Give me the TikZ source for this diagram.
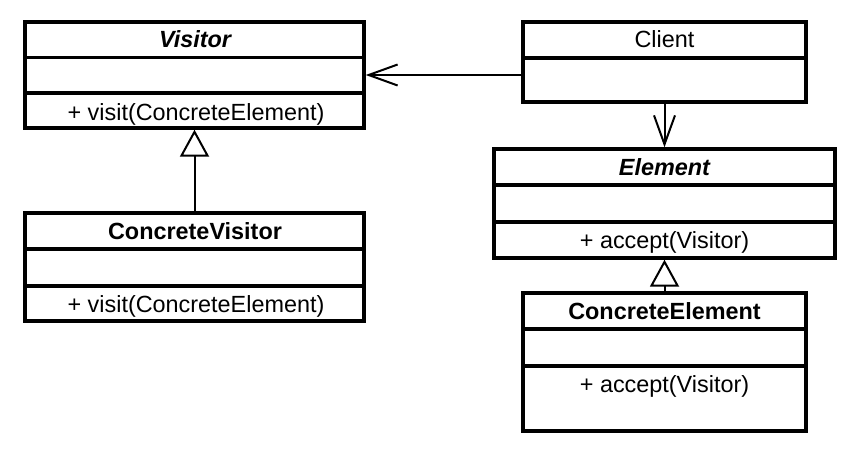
\documentclass[tikz,border=0pt]{standalone}
\usepackage{fontspec}
\setmainfont{Liberation Sans}
\usetikzlibrary{arrows.meta}
\begin{document}
\begin{tikzpicture}[x=1pt,y=-1pt,
  cls/.style={draw, line width=3.4pt, inner sep=0pt, fill=white},
  div/.style={line width=3.4pt},
  lbl/.style={anchor=base, inner sep=0pt, font=\fontsize{23.4pt}{27pt}\selectfont},
  assoc/.style={line width=2pt, -{Straight Barb[length=29pt,width=21pt,line width=2pt,line join=miter]}},
  gen/.style={line width=2pt, -{Triangle[open,length=27pt,width=29pt,line width=2pt,fill=white]}}]
\fill[white] (0,0) rectangle (862,452);
\useasboundingbox (0,0) rectangle (862,452);

% Visitor
\node[cls, minimum width=339pt, minimum height=106pt] (visitor) at (194.5,75) {};
\draw[div] (visitor.west |- 0,57.5) -- (visitor.east |- 0,57.5);
\draw[div] (visitor.west |- 0,93) -- (visitor.east |- 0,93);
\node[lbl] (visitorT) at (195,48) {\bfseries\itshape Visitor};
\node[lbl] (visitorM) at (196,120) {+ visit(ConcreteElement)};

% ConcreteVisitor
\node[cls, minimum width=339pt, minimum height=108pt] (cvisitor) at (194.5,267) {};
\draw[div] (cvisitor.west |- 0,249) -- (cvisitor.east |- 0,249);
\draw[div] (cvisitor.west |- 0,286) -- (cvisitor.east |- 0,286);
\node[lbl] (cvisitorT) at (195,239) {\bfseries ConcreteVisitor};
\node[lbl] (cvisitorM) at (196,312) {+ visit(ConcreteElement)};

% Client
\node[cls, minimum width=283pt, minimum height=80pt] (client) at (664.5,62) {};
\draw[div] (client.west |- 0,58) -- (client.east |- 0,58);
\node[lbl] (clientT) at (664.5,48) {Client};

% Element
\node[cls, minimum width=341pt, minimum height=109pt] (element) at (664.5,203.5) {};
\draw[div] (element.west |- 0,185) -- (element.east |- 0,185);
\draw[div] (element.west |- 0,222) -- (element.east |- 0,222);
\node[lbl] (elementT) at (664.5,175) {\bfseries\itshape Element};
\node[lbl] (elementM) at (664.5,248) {+ accept(Visitor)};

% ConcreteElement
\node[cls, minimum width=283pt, minimum height=138pt] (celement) at (664.5,362) {};
\draw[div] (celement.west |- 0,329) -- (celement.east |- 0,329);
\draw[div] (celement.west |- 0,366) -- (celement.east |- 0,366);
\node[lbl] (celementT) at (664.5,319) {\bfseries ConcreteElement};
\node[lbl] (celementM) at (664.5,392) {+ accept(Visitor)};

% connectors
\draw[assoc] (client.west |- visitor.east) -- (visitor.east);
\draw[assoc] (client.south) -- (element.north);
\draw[gen] (cvisitor.north) -- (visitor.south);
\draw[gen] (celement.north) -- (element.south);
\end{tikzpicture}
\end{document}
